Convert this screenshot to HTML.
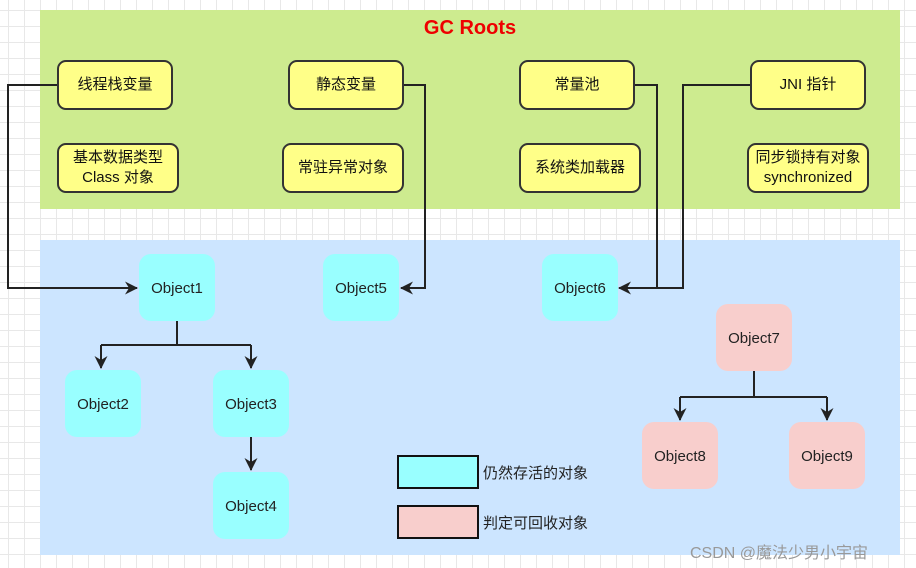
<!DOCTYPE html>
<html><head><meta charset="utf-8"><style>
body{margin:0;width:916px;height:568px;overflow:hidden;background:#fff;
background-image:linear-gradient(#e8e8e8 1px,transparent 1px),linear-gradient(90deg,#e8e8e8 1px,transparent 1px);background-size:16px 16px;background-position:8px 10px;
font-family:"Liberation Sans","Noto Sans CJK SC",sans-serif;position:relative}
.p{position:absolute}
.y{position:absolute;background:#ffff88;border:2px solid #333;border-radius:9px;box-sizing:border-box;display:flex;align-items:center;justify-content:center;text-align:center;font-size:15px;color:#111;line-height:20px}
.o{position:absolute;border-radius:12px;display:flex;align-items:center;justify-content:center;font-size:15px;color:#222;width:76px;height:67px;padding-top:2px;box-sizing:border-box}
.c{background:#99ffff}.k{background:#f8cecc}
</style></head><body>
<div class="p" style="left:40px;top:10px;width:860px;height:199px;background:#cdeb8f"></div>
<div class="p" style="left:40px;top:240px;width:860px;height:315px;background:#cce5ff"></div>
<div class="p" style="left:40px;top:17px;width:860px;text-align:center;color:#e00;font-weight:bold;font-size:20px">GC Roots</div>
<div class="y" style="left:57px;top:60px;width:116px;height:50px">线程栈变量</div>
<div class="y" style="left:288px;top:60px;width:116px;height:50px">静态变量</div>
<div class="y" style="left:519px;top:60px;width:116px;height:50px">常量池</div>
<div class="y" style="left:750px;top:60px;width:116px;height:50px">JNI 指针</div>
<div class="y" style="left:57px;top:143px;width:122px;height:50px">基本数据类型<br>Class 对象</div>
<div class="y" style="left:282px;top:143px;width:122px;height:50px">常驻异常对象</div>
<div class="y" style="left:519px;top:143px;width:122px;height:50px">系统类加载器</div>
<div class="y" style="left:747px;top:143px;width:122px;height:50px">同步锁持有对象<br>synchronized</div>
<div class="o c" style="left:139px;top:254px">Object1</div>
<div class="o c" style="left:323px;top:254px">Object5</div>
<div class="o c" style="left:542px;top:254px">Object6</div>
<div class="o c" style="left:65px;top:370px">Object2</div>
<div class="o c" style="left:213px;top:370px">Object3</div>
<div class="o c" style="left:213px;top:472px">Object4</div>
<div class="o k" style="left:716px;top:304px">Object7</div>
<div class="o k" style="left:642px;top:422px">Object8</div>
<div class="o k" style="left:789px;top:422px">Object9</div>
<div class="p" style="left:397px;top:455px;width:82px;height:34px;box-sizing:border-box;border:2px solid #111;background:#99ffff"></div>
<div class="p" style="left:397px;top:505px;width:82px;height:34px;box-sizing:border-box;border:2px solid #111;background:#f8cecc"></div>
<div class="p" style="left:483px;top:462px;font-size:15px;color:#222">仍然存活的对象</div>
<div class="p" style="left:483px;top:512px;font-size:15px;color:#222">判定可回收对象</div>
<div class="p" style="left:690px;top:539px;font-size:16px;color:#999">CSDN @魔法少男小宇宙</div>
<svg class="p" style="left:0;top:0" width="916" height="568">
<defs><marker id="a" markerWidth="13" markerHeight="13" refX="12" refY="6.5" orient="auto" markerUnits="userSpaceOnUse"><path d="M0,0 L13,6.5 L0,13 L4,6.5z" fill="#222"/></marker></defs>
<g fill="none" stroke="#222" stroke-width="2">
<path d="M57,85 H8 V288 H137" marker-end="url(#a)"/>
<path d="M404,85 H425 V288 H401" marker-end="url(#a)"/>
<path d="M635,85 H657 V288 H619" marker-end="url(#a)"/>
<path d="M750,85 H683 V288 H657"/>
<path d="M177,321 V345 M101,345 H251"/>
<path d="M101,345 V368" marker-end="url(#a)"/>
<path d="M251,345 V368" marker-end="url(#a)"/>
<path d="M251,437 V470" marker-end="url(#a)"/>
<path d="M754,371 V397 M680,397 H827"/>
<path d="M680,397 V420" marker-end="url(#a)"/>
<path d="M827,397 V420" marker-end="url(#a)"/>
</g></svg>
</body></html>
